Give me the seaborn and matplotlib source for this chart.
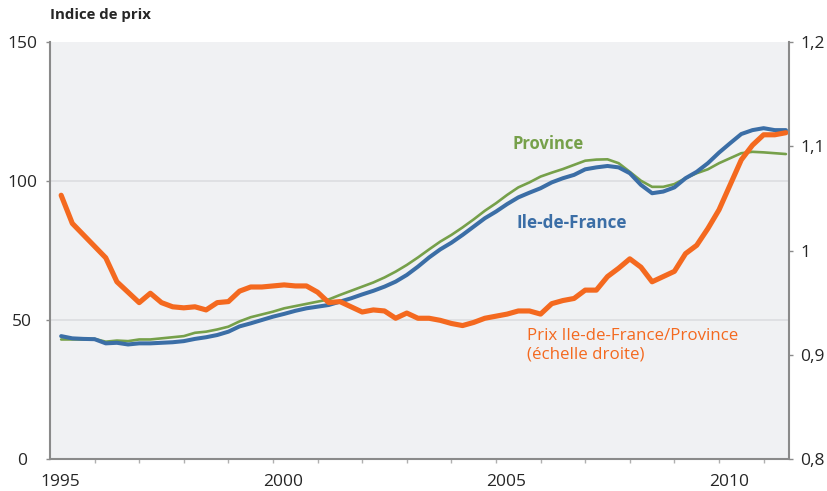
import matplotlib
matplotlib.use('Agg')
import matplotlib.pyplot as plt
import numpy as np
import pandas as pd
import seaborn as sns

# quarterly series, 1995 Q1 -> 2011 Q2
idf = [44.2, 43.4, 43.2, 43.1, 41.6, 41.8, 41.2, 41.6, 41.6, 41.8, 42.0, 42.4, 43.2, 43.8, 44.6, 45.8,
       47.7, 48.8, 50.0, 51.2, 52.2, 53.3, 54.2, 54.8, 55.4, 56.6, 57.8, 59.2, 60.5, 62.0, 63.8, 66.2,
       69.2, 72.5, 75.4, 77.8, 80.6, 83.6, 86.6, 89.0, 91.7, 94.1, 95.8, 97.4, 99.5, 101.0, 102.2, 104.2,
       104.9, 105.4, 104.9, 102.8, 98.6, 95.6, 96.2, 97.7, 101.0, 103.3, 106.4, 110.2, 113.6, 116.9,
       118.3, 119.0, 118.3, 118.3]
province = [43.0, 43.0, 43.0, 43.2, 42.2, 42.6, 42.4, 43.0, 43.0, 43.4, 43.8, 44.2, 45.4, 45.8, 46.6, 47.6,
            49.5, 51.0, 52.0, 53.0, 54.2, 55.0, 55.8, 56.6, 57.4, 59.0, 60.5, 62.0, 63.5, 65.3, 67.4, 69.8,
            72.5, 75.4, 78.2, 80.6, 83.3, 86.2, 89.3, 92.0, 95.0, 97.7, 99.5, 101.6, 103.0, 104.3, 105.8, 107.3,
            107.7, 107.8, 106.4, 103.3, 100.1, 97.9, 97.9, 98.9, 101.0, 102.8, 104.2, 106.4, 108.2, 110.0,
            110.5, 110.3, 110.0, 109.7]
ratio = [1.053, 1.026, 1.015, 1.004, 0.993, 0.970, 0.960, 0.950, 0.959, 0.950, 0.946, 0.945, 0.946, 0.943,
         0.950, 0.951, 0.961, 0.965, 0.965, 0.966, 0.967, 0.966, 0.966, 0.960, 0.950, 0.951, 0.946, 0.941,
         0.943, 0.942, 0.935, 0.940, 0.935, 0.935, 0.933, 0.930, 0.928, 0.931, 0.935, 0.937, 0.939, 0.942,
         0.942, 0.939, 0.949, 0.952, 0.954, 0.962, 0.962, 0.975, 0.983, 0.992, 0.984, 0.970, 0.975, 0.980,
         0.997, 1.005, 1.021, 1.039, 1.063, 1.087, 1.101, 1.111, 1.111, 1.113]
quarters = 1995.25 + np.arange(len(idf)) / 4

left_ticks = [0, 50, 100, 150]
right_ticks = [0.8, 0.9, 1.0, 1.1, 1.2]
right_labels = ['0,8', '0,9', '1', '1,1', '1,2']
year_labels = [1995, 2000, 2005, 2010]

c_blue = '#3B6EA6'
c_green = '#76A04A'
c_orange = '#F4691F'
c_axis = '#8A8A8A'

df = pd.DataFrame({'t': quarters, 'idf': idf, 'province': province, 'ratio': ratio})

sns.set_theme(style='white')
plt.rcParams['font.family'] = ['Open Sans', 'DejaVu Sans']

fig = plt.figure(figsize=(8.27, 4.91), dpi=100)
ax = fig.add_axes([50 / 827, 1 - 459 / 491, 739 / 827, 417 / 491])
ax.set_facecolor('#F0F1F3')
ax2 = ax.twinx()

sns.lineplot(data=df, x='t', y='province', ax=ax, color=c_green, linewidth=1.9)
sns.lineplot(data=df, x='t', y='idf', ax=ax, color=c_blue, linewidth=2.9)
sns.lineplot(data=df, x='t', y='ratio', ax=ax2, color=c_orange, linewidth=3.7)

ax.set_xlim(1995, 1995 + 739 / 44.6)
ax.set_ylim(0, 150)
ax2.set_ylim(0.8, 1.2)
ax.set_xlabel('')
ax.set_ylabel('')
ax2.set_ylabel('')

ax.set_yticks(left_ticks)
ax.set_yticklabels([str(v) for v in left_ticks], ha='center')
ax2.set_yticks(right_ticks)
ax2.set_yticklabels(right_labels)

ax.set_xticks([y + 0.22 for y in year_labels])
ax.set_xticklabels([str(y) for y in year_labels])
ax.set_xticks(np.arange(1996, 2012), minor=True)

for a in (ax, ax2):
    for s in a.spines.values():
        s.set_visible(False)
ax.spines['left'].set_visible(True)
ax.spines['bottom'].set_visible(True)
ax2.spines['right'].set_visible(True)
for s in (ax.spines['left'], ax.spines['bottom'], ax2.spines['right']):
    s.set_color(c_axis)
    s.set_linewidth(1.5)

ax.tick_params(axis='y', which='major', direction='out', length=3, width=1, color=c_axis,
               labelsize=12.5, pad=17, left=True)
ax.tick_params(axis='x', which='major', length=0, labelsize=12.5, pad=11, bottom=True)
ax.tick_params(axis='x', which='minor', direction='out', length=3, width=1, color='#B0B0B0', bottom=True)
ax2.tick_params(axis='y', direction='out', length=3, width=1, color=c_axis, labelsize=12.5, pad=5, right=True)

ax.yaxis.grid(True, color='#DCDDE0', linewidth=1.2)
ax.set_axisbelow(True)
for gl, v in zip(ax.yaxis.get_gridlines(), left_ticks):
    if v in (0, 150):
        gl.set_visible(False)

ax.text(2005.36, 113.2, 'Province', color=c_green, fontsize=12, fontweight='bold', va='center')
ax.text(2005.47, 85.0, 'Ile-de-France', color=c_blue, fontsize=12.3, fontweight='bold', va='center')
ax.text(2005.70, 41.0, 'Prix Ile-de-France/Province\n(échelle droite)', color=c_orange, fontsize=12.2,
        va='center', linespacing=1.25)

fig.text(50 / 827, 1 - 15 / 491, 'Indice de prix', fontsize=10.8, fontweight='bold', va='center', ha='left')

plt.savefig('out.png', dpi=100)
